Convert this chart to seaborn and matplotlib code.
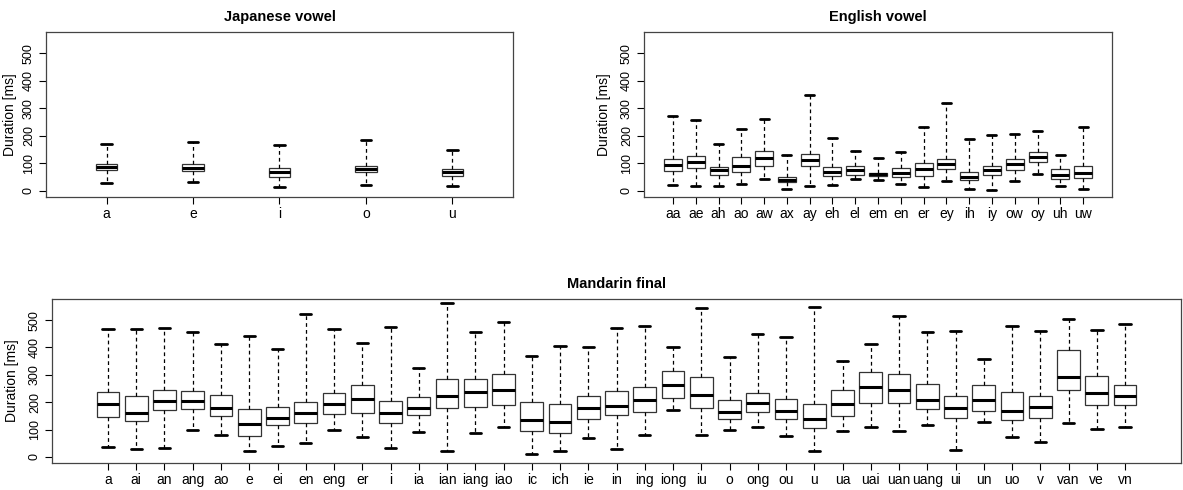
import numpy as np
import pandas as pd
import seaborn as sns
import matplotlib
matplotlib.use('Agg')
import matplotlib.pyplot as plt

# five-number summaries: (low whisker, q1, median, q3, high whisker)
jp_labels = ['a', 'e', 'i', 'o', 'u']
jp_low = [29, 31, 15, 23, 17]
jp_q1 = [76, 71, 52, 69, 53]
jp_med = [88, 85, 69, 80, 67]
jp_q3 = [99, 97, 85, 92, 80]
jp_high = [171, 176, 167, 186, 149]

en_labels = ['aa', 'ae', 'ah', 'ao', 'aw', 'ax', 'ay', 'eh', 'el', 'em',
             'en', 'er', 'ey', 'ih', 'iy', 'ow', 'oy', 'uh', 'uw']
en_low = [23, 19, 19, 24, 45, 7, 19, 22, 42, 40, 25, 14, 36, 7, 4, 36, 63, 19, 7]
en_q1 = [73, 82, 58, 67, 89, 31, 89, 53, 58, 54, 49, 55, 80, 39, 57, 75, 105, 43, 46]
en_med = [95, 104, 75, 92, 119, 41, 114, 70, 76, 61, 66, 78, 98, 52, 76, 96, 124, 58, 66]
en_q3 = [117, 127, 88, 122, 146, 52, 135, 88, 92, 66, 84, 101, 117, 67, 89, 117, 143, 78, 92]
en_high = [272, 258, 170, 225, 261, 130, 347, 193, 145, 120, 142, 233, 318, 189, 204, 206, 218, 131, 233]

md_labels = ['a', 'ai', 'an', 'ang', 'ao', 'e', 'ei', 'en', 'eng', 'er', 'i', 'ia',
             'ian', 'iang', 'iao', 'ic', 'ich', 'ie', 'in', 'ing', 'iong', 'iu', 'o',
             'ong', 'ou', 'u', 'ua', 'uai', 'uan', 'uang', 'ui', 'un', 'uo', 'v',
             'van', 've', 'vn']
md_low = [37, 29, 34, 98, 80, 22, 40, 52, 98, 72, 33, 91, 22, 88, 109, 12, 22, 69,
          29, 80, 170, 81, 98, 109, 76, 22, 94, 109, 94, 116, 25, 126, 72, 54, 123, 101, 109]
md_q1 = [146, 130, 173, 175, 150, 76, 115, 123, 158, 162, 124, 153, 180, 182, 190, 95,
         86, 140, 153, 164, 216, 178, 140, 163, 138, 105, 150, 196, 196, 175, 143, 168,
         134, 143, 245, 190, 191]
md_med = [193, 162, 205, 205, 179, 121, 143, 162, 192, 210, 162, 180, 223, 238, 246,
          136, 127, 179, 185, 207, 262, 225, 164, 196, 168, 138, 194, 254, 245, 209, 180,
          207, 168, 184, 292, 232, 221]
md_q3 = [239, 222, 246, 242, 225, 174, 184, 202, 234, 262, 205, 219, 283, 285, 302, 200,
         193, 223, 240, 257, 314, 292, 208, 232, 210, 193, 245, 310, 302, 268, 223, 262,
         237, 221, 390, 296, 264]
md_high = [469, 469, 472, 458, 413, 442, 395, 523, 467, 418, 476, 324, 563, 458, 492,
           370, 407, 402, 472, 479, 402, 543, 366, 450, 440, 548, 349, 413, 514, 458, 460,
           359, 478, 460, 504, 464, 487]


def long_frame(labels, *cols):
    rows = []
    for i, lab in enumerate(labels):
        for c in cols:
            rows.append((lab, c[i]))
    return pd.DataFrame(rows, columns=['phone', 'dur'])


sns.set_style('white')
plt.rcParams['font.family'] = ['Liberation Sans', 'DejaVu Sans']
plt.rcParams['text.color'] = 'black'
plt.rcParams['axes.labelcolor'] = 'black'

fig = plt.figure(figsize=(11.83, 4.9), dpi=100)
ax_jp = fig.add_axes([0.0389, 0.598, 0.3947, 0.3367])
ax_en = fig.add_axes([0.5444, 0.598, 0.3956, 0.3367])
ax_md = fig.add_axes([0.0440, 0.0551, 0.9543, 0.3347])

panels = [
    (ax_jp, 'Japanese vowel', jp_labels, (jp_low, jp_q1, jp_med, jp_q3, jp_high), 0.25, (-0.7, 4.7), 4),
    (ax_en, 'English vowel', en_labels, (en_low, en_q1, en_med, en_q3, en_high), 0.79, (-1.27, 19.27), 7),
    (ax_md, 'Mandarin final', md_labels, (md_low, md_q1, md_med, md_q3, md_high), 0.81, (-1.98, 37.98), 7),
]

for ax, title, labels, cols, w, xl, lp in panels:
    df = long_frame(labels, *cols)
    sns.boxplot(data=df, x='phone', y='dur', order=labels, ax=ax, whis=(0, 100),
                width=w, color='white', linecolor='#333333', linewidth=0.9,
                showfliers=False,
                medianprops=dict(color='black', linewidth=2.2),
                whiskerprops=dict(color='black', linewidth=0.9, linestyle=(0, (3, 2.5))),
                capprops=dict(color='black', linewidth=2.0),
                boxprops=dict(facecolor='white'))
    ax.set_xlim(*xl)
    ax.set_ylim(-22, 577)
    ax.set_yticks([0, 100, 200, 300, 400, 500])
    ax.set_yticklabels(['0', '100', '200', '300', '400', '500'], rotation=90, va='center')
    ax.set_xlabel('')
    ax.set_ylabel('Duration [ms]', fontsize=10, labelpad=lp, color='black')
    ax.set_title(title, fontsize=10.5, fontweight='bold', pad=8, color='black')
    ax.tick_params(axis='both', direction='out', length=5, width=0.8, color='black',
                   labelcolor='black', bottom=True, left=True)
    ax.tick_params(axis='x', pad=2, labelsize=10)
    ax.tick_params(axis='y', pad=3, labelsize=9)
    for sp in ax.spines.values():
        sp.set_visible(True)
        sp.set_color('#444444')
        sp.set_linewidth(0.9)

fig.savefig('out.png', dpi=100, facecolor='white')
